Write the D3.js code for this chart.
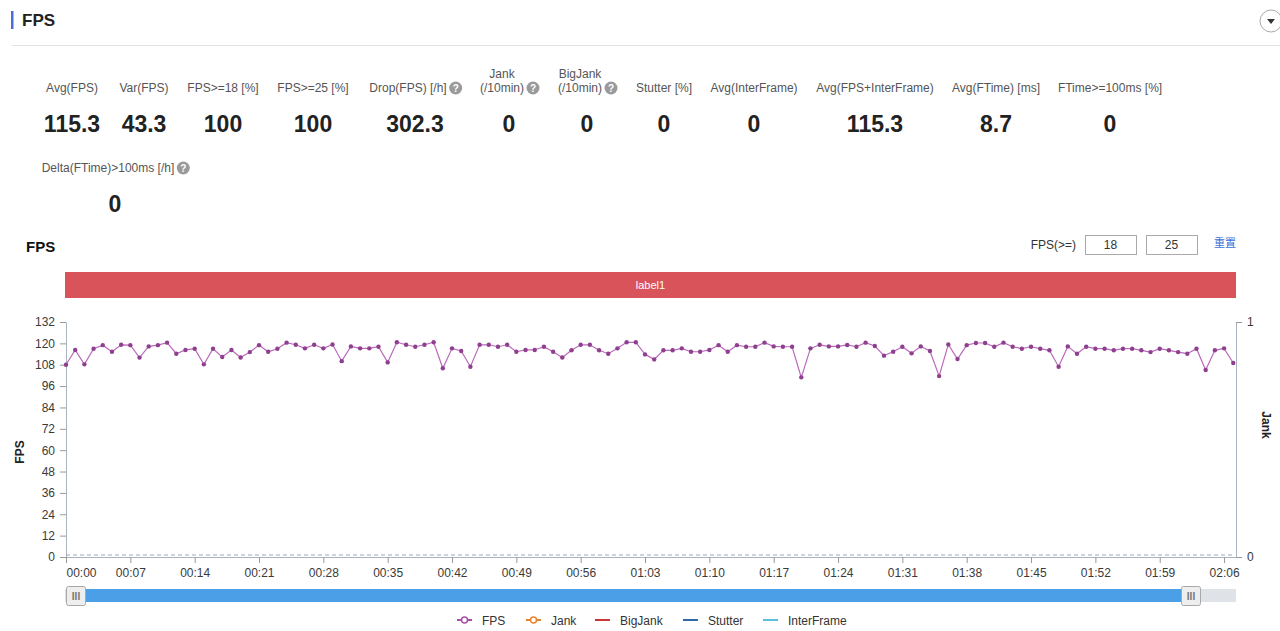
<!DOCTYPE html>
<html>
<head>
<meta charset="utf-8">
<script src="https://cdn.jsdelivr.net/npm/d3@7"></script>
<style>
  html, body { margin: 0; padding: 0; background: #fff; }
  svg { display: block; font-family: "Helvetica Neue", Arial, "Liberation Sans", sans-serif; }
</style>
</head>
<body>
<svg id="chart" width="1280" height="631"></svg>
<script>
// summary stats row
var statLabels = [
  ["Avg(FPS)"], ["Var(FPS)"], ["FPS>=18 [%]"], ["FPS>=25 [%]"], ["Drop(FPS) [/h]"],
  ["Jank", "(/10min)"], ["BigJank", "(/10min)"], ["Stutter [%]"], ["Avg(InterFrame)"],
  ["Avg(FPS+InterFrame)"], ["Avg(FTime) [ms]"], ["FTime>=100ms [%]"], ["Delta(FTime)>100ms [/h]"]
];
var statValues = ["115.3", "43.3", "100", "100", "302.3", "0", "0", "0", "0", "115.3", "8.7", "0", "0"];
var statHelp = [false, false, false, false, true, true, true, false, false, false, false, false, true];

// one FPS sample per second
var fpsValues = [
  108, 116.3, 108.2, 117, 119, 115.3, 119.2, 119, 112, 118.3, 119, 120.4, 114.2, 116.3, 117, 108.2,
  117, 112.3, 116.3, 112.1, 115.1, 119, 115.3, 117, 120.4, 119.2, 117.2, 119.2, 117.2, 119.4, 110, 118.3,
  117.2, 117.2, 118.1, 109.3, 120.6, 119.2, 118.1, 119.2, 120.6, 106, 117.2, 115.7, 106.9, 119.2, 119.2, 118.1,
  119.2, 115.3, 116.3, 116.3, 118.1, 115.3, 112.1, 116.1, 119.2, 119.2, 116.1, 114.2, 117.2, 120.6, 120.6, 113.8,
  111, 116.1, 116.1, 117.2, 115.3, 115.3, 116.3, 119, 115.3, 119, 118.1, 118.1, 120.4, 118.3, 118.1, 118.1,
  100.9, 117.2, 119.2, 118.3, 118.3, 119.1, 118.1, 120.4, 118.5, 113.1, 115.3, 118.1, 114.4, 118.3, 115.7, 101.6,
  119.4, 111.2, 119, 120.2, 120.2, 118.1, 120.4, 118.1, 117, 118.1, 117, 116.1, 106.9, 118.3, 114.2, 118.1,
  117, 117, 116.1, 117, 117, 116.1, 115.1, 117, 116.1, 115.1, 114.2, 117, 105, 116.1, 117.2, 109
];
var jankValues = [
  0,0,0,0,0,0,0,0,0,0,0,0,0,0,0,0, 0,0,0,0,0,0,0,0,0,0,0,0,0,0,0,0,
  0,0,0,0,0,0,0,0,0,0,0,0,0,0,0,0, 0,0,0,0,0,0,0,0,0,0,0,0,0,0,0,0,
  0,0,0,0,0,0,0,0,0,0,0,0,0,0,0,0, 0,0,0,0,0,0,0,0,0,0,0,0,0,0,0,0,
  0,0,0,0,0,0,0,0,0,0,0,0,0,0,0,0, 0,0,0,0,0,0,0,0,0,0,0,0,0,0,0,0
];
var timeTicks = [0, 7, 14, 21, 28, 35, 42, 49, 56, 63, 70, 77, 84, 91, 98, 105, 112, 119, 126];
var fpsTicks = [0, 12, 24, 36, 48, 60, 72, 84, 96, 108, 120, 132];
var jankTicks = [0, 1];
var legendNames = ["FPS", "Jank", "BigJank", "Stutter", "InterFrame"];
var legendColours = ["#a94fa9", "#e8832a", "#c9353a", "#2f6aa6", "#5bc0de"];
var thresholds = ["18", "25"];

var svg = d3.select("#chart");

// ---- page header ----
svg.append("rect").attr("x", 11).attr("y", 11).attr("width", 2.5).attr("height", 18).attr("fill", "#4a6fd6");
svg.append("text").attr("x", 22).attr("y", 26).attr("font-size", 17).attr("font-weight", "bold")
  .attr("fill", "#222").text("FPS");
svg.append("line").attr("x1", 12).attr("x2", 1280).attr("y1", 45.5).attr("y2", 45.5).attr("stroke", "#e3e3e3");
var dd = svg.append("g").attr("transform", "translate(1271,21)");
dd.append("circle").attr("r", 11).attr("fill", "#fff").attr("stroke", "#aaa");
dd.append("path").attr("d", "M-4,-2L4,-2L0,3Z").attr("fill", "#333");

// ---- stats ----
var statX = [72, 144, 223, 313, 408, 502, 580, 664, 754, 875, 996, 1110, 108];
var statRow = [0, 0, 0, 0, 0, 0, 0, 0, 0, 0, 0, 0, 1];

statLabels.forEach(function(lab, i) {
  var g = svg.append("g").attr("transform", "translate(" + statX[i] + "," + (statRow[i] * 80) + ")");
  lab.forEach(function(line, j) {
    g.append("text").attr("x", 0).attr("y", 92 - (lab.length - 1 - j) * 14)
      .attr("text-anchor", "middle").attr("font-size", 12).attr("fill", "#555").text(line);
  });
  if (statHelp[i]) {
    var last = g.select("text:last-of-type").node().getComputedTextLength();
    var h = g.append("g").attr("transform", "translate(" + (last / 2 + 9) + ",88)");
    h.append("circle").attr("r", 6.5).attr("fill", "#9a9a9a");
    h.append("text").attr("text-anchor", "middle").attr("y", 4).attr("font-size", 10)
      .attr("font-weight", "bold").attr("fill", "#fff").text("?");
  }
  g.append("text").attr("x", statHelp[i] ? 7 : 0).attr("y", 132).attr("text-anchor", "middle")
    .attr("font-size", 23).attr("font-weight", "bold").attr("fill", "#222").text(statValues[i]);
});

// ---- chart header ----
svg.append("text").attr("x", 26).attr("y", 252).attr("font-size", 15).attr("font-weight", "bold")
  .attr("fill", "#111").text("FPS");
svg.append("text").attr("x", 1076).attr("y", 249).attr("text-anchor", "end").attr("font-size", 12)
  .attr("fill", "#333").text("FPS(>=)");
thresholds.forEach(function(t, i) {
  var bx = 1085 + i * 61;
  svg.append("rect").attr("x", bx + 0.5).attr("y", 235.5).attr("width", 51).attr("height", 19)
    .attr("fill", "#fff").attr("stroke", "#aaa");
  svg.append("text").attr("x", bx + 25.5).attr("y", 249).attr("text-anchor", "middle")
    .attr("font-size", 12).attr("fill", "#333").text(t);
});
svg.append("text").attr("x", 1214).attr("y", 247).attr("font-size", 11).attr("fill", "#3a6fd8")
  .attr("font-family", "'Noto Sans CJK SC', sans-serif").text("重置");

// ---- plot ----
var plotLeft = 66, plotRight = 1236, plotTop = 322, plotBottom = 557;

var x = d3.scaleLinear().domain([0, 127.3]).range([plotLeft, plotRight]);
var y = d3.scaleLinear().domain([0, 132]).range([plotBottom, plotTop]);
var yJank = d3.scaleLinear().domain([0, 1]).range([plotBottom, plotTop]);

svg.append("rect").attr("x", 65).attr("y", 272).attr("width", plotRight - 65).attr("height", 26)
  .attr("fill", "#d9545a");
svg.append("text").attr("x", (65 + plotRight) / 2).attr("y", 289).attr("text-anchor", "middle")
  .attr("font-size", 11).attr("fill", "#fff").text("label1");

function fmtTime(s) {
  return d3.format("02")(Math.floor(s / 60)) + ":" + d3.format("02")(s % 60);
}

var yAxis = svg.append("g").attr("transform", "translate(" + plotLeft + ",0)")
  .call(d3.axisLeft(y).tickValues(fpsTicks).tickSize(6).tickPadding(5).tickSizeOuter(0));
var yAxisR = svg.append("g").attr("transform", "translate(" + plotRight + ",0)")
  .call(d3.axisRight(yJank).tickValues(jankTicks).tickFormat(d3.format("d"))
    .tickSize(6).tickPadding(5).tickSizeOuter(0));
var xAxis = svg.append("g").attr("transform", "translate(0," + plotBottom + ")")
  .call(d3.axisBottom(x).tickValues(timeTicks).tickFormat(fmtTime).tickSize(6).tickPadding(5).tickSizeOuter(0));

[yAxis, yAxisR, xAxis].forEach(function(a) {
  a.select(".domain").attr("stroke", "#aab4c0");
  a.selectAll(".tick line").attr("stroke", "#999");
  a.selectAll(".tick text").attr("font-size", 12).attr("fill", "#3a3a3a")
    .attr("font-family", "'Helvetica Neue', Arial, 'Liberation Sans', sans-serif");
});
xAxis.select(".tick text").attr("text-anchor", "start");

svg.append("text").attr("transform", "translate(24,452) rotate(-90)").attr("text-anchor", "middle")
  .attr("font-size", 12).attr("font-weight", "bold").attr("fill", "#222").text("FPS");
svg.append("text").attr("transform", "translate(1262,425) rotate(90)").attr("text-anchor", "middle")
  .attr("font-size", 12).attr("font-weight", "bold").attr("fill", "#222").text("Jank");

// jank series sits on zero
var jankLine = d3.line().x(function(d, i) { return x(i); }).y(function(d) { return yJank(d) - 2; });
svg.append("path").datum(jankValues).attr("d", jankLine).attr("fill", "none")
  .attr("stroke", "#9aa6b4").attr("stroke-width", 1).attr("stroke-dasharray", "4,3");

var fpsLine = d3.line().x(function(d, i) { return x(i); }).y(function(d) { return y(d); });
svg.append("path").datum(fpsValues).attr("d", fpsLine).attr("fill", "none")
  .attr("stroke", "#bb6abb").attr("stroke-width", 1.2);
svg.append("g").selectAll("circle").data(fpsValues).enter().append("circle")
  .attr("cx", function(d, i) { return x(i); })
  .attr("cy", function(d) { return y(d); })
  .attr("r", 2.2).attr("fill", "#8e3f8e");

// ---- range slider ----
svg.append("rect").attr("x", 65).attr("y", 589).attr("width", plotRight - 65).attr("height", 13).attr("fill", "#dfe2e6");
svg.append("rect").attr("x", 76).attr("y", 589).attr("width", 1114).attr("height", 13).attr("fill", "#4a9fe6");
[66, 1181].forEach(function(hx) {
  svg.append("rect").attr("x", hx + 0.5).attr("y", 586.5).attr("width", 19).attr("height", 19).attr("rx", 2)
    .attr("fill", "#eeeeee").attr("stroke", "#a8a8a8");
  svg.append("text").attr("x", hx + 10).attr("y", 600).attr("text-anchor", "middle").attr("font-size", 10)
    .attr("font-weight", "bold").attr("fill", "#777").text("III");
});

// ---- legend ----
var legX = [457, 526, 595, 683, 763];
legendNames.forEach(function(name, i) {
  var g = svg.append("g").attr("transform", "translate(" + legX[i] + ",620)");
  g.append("line").attr("x1", 0).attr("x2", 15).attr("stroke", legendColours[i]).attr("stroke-width", 2);
  if (i < 2) g.append("circle").attr("cx", 7.5).attr("r", 3).attr("fill", "#fff")
    .attr("stroke", legendColours[i]).attr("stroke-width", 1.5);
  g.append("text").attr("x", 25).attr("y", 4.5).attr("font-size", 12).attr("fill", "#333").text(name);
});
</script>
</body>
</html>
